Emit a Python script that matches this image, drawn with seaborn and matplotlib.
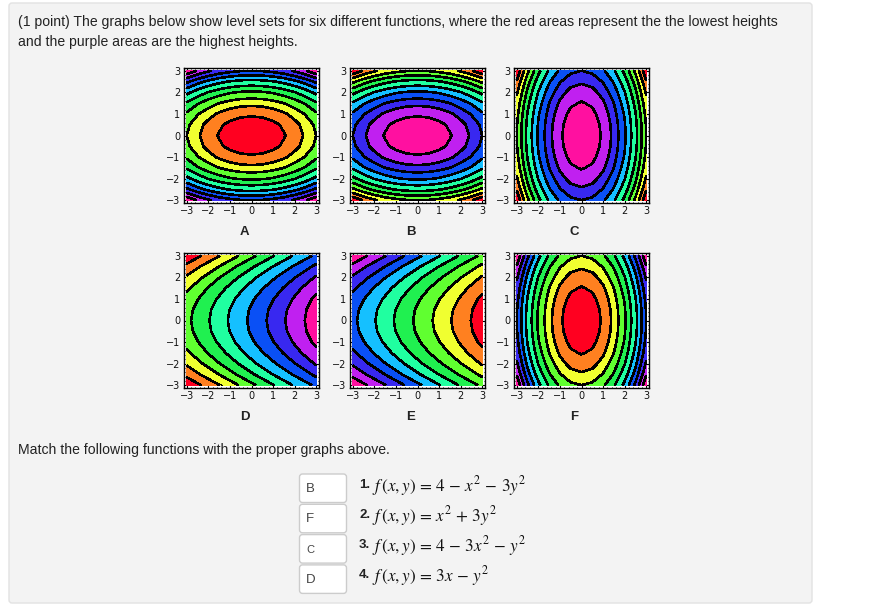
import numpy as np
import seaborn as sns
import matplotlib
matplotlib.use("Agg")
import matplotlib.pyplot as plt
from matplotlib.patches import FancyBboxPatch

# grid the heights were read on
grid = [-3, -2.5, -2, -1.5, -1, -0.5, 0, 0.5, 1, 1.5, 2, 2.5, 3]

# heights along the axes
bowl_wide = [9, 6.25, 4, 2.25, 1, 0.25, 0, 0.25, 1, 2.25, 4, 6.25, 9]
bowl_narrow = [27, 18.75, 12, 6.75, 3, 0.75, 0, 0.75, 3, 6.75, 12, 18.75, 27]
ridge_x = [-9, -7.5, -6, -4.5, -3, -1.5, 0, 1.5, 3, 4.5, 6, 7.5, 9]
ridge_y = [-9, -6.25, -4, -2.25, -1, -0.25, 0, -0.25, -1, -2.25, -4, -6.25, -9]

# contour levels
bowl_levels = [0, 2.5, 5.8, 9, 12.6, 16.2, 20, 23.6, 27, 30.5, 33.5, 36]
ridge_levels = [-18, -16, -13.4, -10.8, -8.4, -5.85, -3.3, -0.6, 2.1, 4.7, 7.4, 9]

hues = ["#ff0020", "#ff8020", "#f0ff30", "#60ff30", "#20f050", "#20ffa0",
        "#15c0ff", "#0a50f5", "#3828f0", "#c020f0", "#ff10a0"]

tick_vals = [-3, -2, -1, 0, 1, 2, 3]
tick_labels = ["\u22123", "\u22122", "\u22121", "0", "1", "2", "3"]

question = ["(1 point) The graphs below show level sets for six different functions, where the red areas represent the the lowest heights",
            "and the purple areas are the highest heights."]
prompt = "Match the following functions with the proper graphs above."
answers = ["B", "F", "C", "D"]
formulas = [r"$f\,(x,y)\,=\,4\,-\,x^2\,-\,3y^2$",
            r"$f\,(x,y)\,=\,x^2\,+\,3y^2$",
            r"$f\,(x,y)\,=\,4\,-\,3x^2\,-\,y^2$",
            r"$f\,(x,y)\,=\,3x\,-\,y^2$"]

sns.set_theme(style="white")
plt.rcParams["font.family"] = ["Liberation Sans", "DejaVu Sans"]
plt.rcParams["mathtext.fontset"] = "stix"

W, H = 896, 610
fig = plt.figure(figsize=(W / 100, H / 100), dpi=100, facecolor="white")

page = fig.add_axes([0, 0, 1, 1])
page.set_xlim(0, W)
page.set_ylim(H, 0)
page.axis("off")
page.add_patch(FancyBboxPatch((9, 3), 803, 600, boxstyle="round,pad=0,rounding_size=3",
                              fc="#f3f3f3", ec="#e2e2e2", lw=1))

page.text(18, 22, question[0], fontsize=10.07, color="#222222", va="center")
page.text(18, 42, question[1], fontsize=10.07, color="#222222", va="center")
page.text(18, 450, prompt, fontsize=10.07, color="#222222", va="center")


def panel(left, top, name, z, levels, colors):
    size = 135
    ax = fig.add_axes([left / W, 1 - (top + size) / H, size / W, size / H])
    ax.contourf(grid, grid, z, levels=levels, colors=colors, antialiased=False)
    ax.contour(grid, grid, z, levels=levels[1:-1], colors="black", linewidths=1.1,
               negative_linestyles="solid", antialiased=False)
    ax.set_xlim(-3.13, 3.13)
    ax.set_ylim(-3.13, 3.13)
    ax.set_facecolor("white")
    ax.set_xticks(tick_vals, tick_labels)
    ax.set_yticks(tick_vals, tick_labels)
    ax.set_xticks(np.arange(-3, 3.01, 0.2), minor=True)
    ax.set_yticks(np.arange(-3, 3.01, 0.2), minor=True)
    ax.tick_params(which="major", direction="in", length=2.5, width=0.8, top=True, right=True,
                   bottom=True, left=True, labelsize=7, pad=2.5, color="black", labelcolor="#111111")
    ax.tick_params(which="minor", direction="in", length=1, width=0.7, top=True, right=True,
                   bottom=True, left=True, color="black")
    for lab in ax.get_xticklabels() + ax.get_yticklabels():
        lab.set_family("DejaVu Sans")
    for s in ax.spines.values():
        s.set_visible(True)
        s.set_color("black")
        s.set_linewidth(1)
    page.text(left + size / 2 - 7, top + 164, name, fontsize=9.5, fontweight="bold",
              color="#222222", ha="center", va="center")


hor_bowl = np.add.outer(bowl_narrow, bowl_wide)
ver_bowl = np.add.outer(bowl_wide, bowl_narrow)
ridge = np.add.outer(ridge_y, ridge_x)

panel(184, 68, "A", hor_bowl, bowl_levels, hues)
panel(350, 68, "B", hor_bowl, bowl_levels, hues[::-1])
panel(514, 68, "C", ver_bowl, bowl_levels, hues[::-1])
panel(184, 253, "D", ridge, ridge_levels, hues)
panel(350, 253, "E", ridge, ridge_levels, hues[::-1])
panel(514, 253, "F", ver_bowl, bowl_levels, hues)

for i, (ans, form) in enumerate(zip(answers, formulas)):
    y = 474 + i * 30.3
    page.add_patch(FancyBboxPatch((299.5, y), 47, 28.5, boxstyle="round,pad=0,rounding_size=3",
                                  fc="white", ec="#cccccc", lw=1))
    page.text(306, y + 15, ans, fontsize=9.5 if ans != "C" else 8, color="#444444", va="center")
    page.text(359, y + 10.5, f"{i + 1}.", fontsize=9.5, fontweight="bold", color="#222222", va="center")
    page.text(372, y + 11.5, form, fontsize=12.3, color="#111111", va="center")

fig.savefig("out.png", dpi=100)
